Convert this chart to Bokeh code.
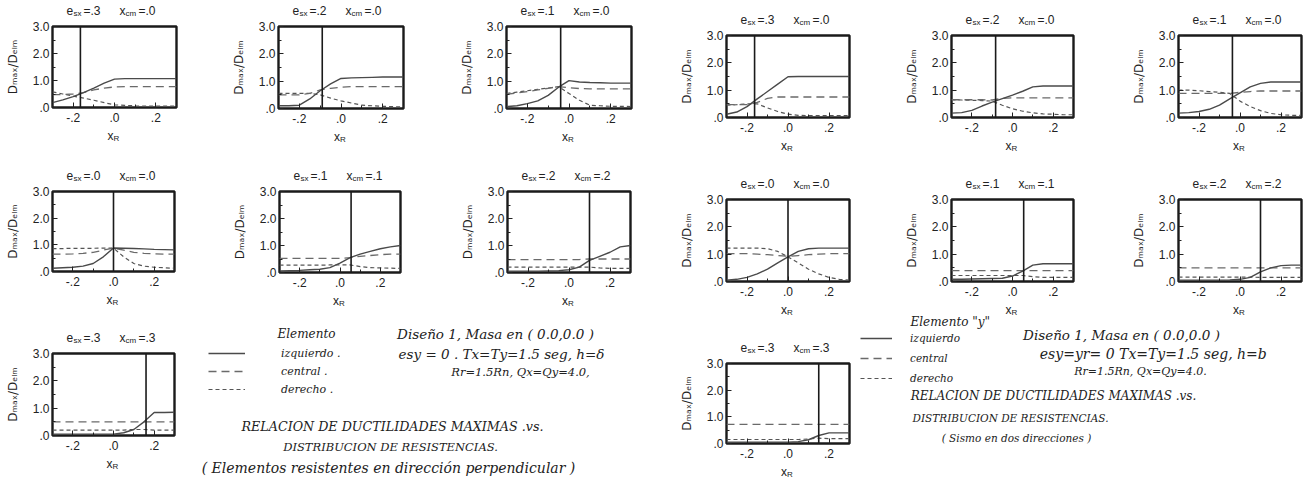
from bokeh.plotting import figure
from bokeh.models import Range1d, FixedTicker, Span, Label, Legend, LegendItem
from bokeh.layouts import row, column
from bokeh.embed import file_html
from bokeh.resources import INLINE

# Strength distribution x_R (abscissa of every panel)
XR = [-0.30, -0.25, -0.20, -0.15, -0.10, -0.05, 0.00, 0.05, 0.10, 0.15, 0.20, 0.25, 0.30]

# Eccentricity e_sx and mass centre x_cm of the seven cases
ESX = [0.3, 0.2, 0.1, 0.0, 0.1, 0.2, 0.3]
XCM = [0.0, 0.0, 0.0, 0.0, 0.1, 0.2, 0.3]

# Position of the vertical reference line in each panel
VLINE_A = [-0.165, -0.09, -0.04, 0.0, 0.055, 0.10, 0.16]
VLINE_B = [-0.163, -0.083, -0.037, 0.0, 0.055, 0.10, 0.15]

# --- Set A: elements resisting in the perpendicular direction -------------
a1_izq = [0.18, 0.28, 0.40, 0.55, 0.72, 0.90, 1.05, 1.07, 1.07, 1.07, 1.07, 1.07, 1.07]
a1_cen = [0.48, 0.48, 0.50, 0.55, 0.65, 0.72, 0.76, 0.77, 0.77, 0.77, 0.77, 0.77, 0.77]
a1_der = [0.58, 0.50, 0.42, 0.35, 0.27, 0.18, 0.10, 0.08, 0.06, 0.05, 0.05, 0.05, 0.05]

a2_izq = [0.10, 0.10, 0.12, 0.35, 0.65, 0.90, 1.10, 1.12, 1.13, 1.14, 1.15, 1.15, 1.15]
a2_cen = [0.50, 0.50, 0.50, 0.55, 0.68, 0.74, 0.78, 0.80, 0.80, 0.80, 0.80, 0.80, 0.80]
a2_der = [0.55, 0.55, 0.55, 0.55, 0.50, 0.38, 0.28, 0.20, 0.12, 0.10, 0.08, 0.07, 0.05]

a3_izq = [0.07, 0.10, 0.18, 0.28, 0.48, 0.78, 1.02, 0.97, 0.95, 0.94, 0.93, 0.93, 0.93]
a3_cen = [0.52, 0.57, 0.62, 0.68, 0.74, 0.80, 0.76, 0.73, 0.72, 0.72, 0.72, 0.72, 0.72]
a3_der = [0.55, 0.60, 0.65, 0.70, 0.75, 0.80, 0.55, 0.30, 0.12, 0.10, 0.08, 0.08, 0.07]

a4_izq = [0.12, 0.14, 0.16, 0.20, 0.30, 0.55, 0.88, 0.87, 0.86, 0.85, 0.83, 0.82, 0.81]
a4_cen = [0.65, 0.65, 0.66, 0.68, 0.72, 0.80, 0.88, 0.80, 0.72, 0.68, 0.66, 0.65, 0.65]
a4_der = [0.86, 0.86, 0.87, 0.87, 0.87, 0.88, 0.88, 0.55, 0.30, 0.20, 0.16, 0.14, 0.12]

a5_izq = [0.06, 0.07, 0.08, 0.10, 0.12, 0.18, 0.35, 0.55, 0.68, 0.78, 0.88, 0.95, 1.00]
a5_cen = [0.52, 0.52, 0.52, 0.52, 0.52, 0.52, 0.52, 0.55, 0.60, 0.63, 0.66, 0.68, 0.68]
a5_der = [0.27, 0.27, 0.27, 0.27, 0.27, 0.28, 0.28, 0.28, 0.22, 0.18, 0.17, 0.16, 0.15]

a6_izq = [0.05, 0.05, 0.05, 0.05, 0.06, 0.07, 0.10, 0.20, 0.45, 0.60, 0.75, 0.95, 1.00]
a6_cen = [0.48, 0.48, 0.48, 0.48, 0.48, 0.48, 0.48, 0.48, 0.50, 0.50, 0.50, 0.50, 0.50]
a6_der = [0.20, 0.20, 0.20, 0.20, 0.20, 0.20, 0.20, 0.20, 0.20, 0.17, 0.15, 0.15, 0.15]

a7_izq = [0.05, 0.05, 0.05, 0.05, 0.05, 0.05, 0.05, 0.10, 0.22, 0.50, 0.84, 0.84, 0.85]
a7_cen = [0.50, 0.50, 0.50, 0.50, 0.50, 0.50, 0.50, 0.50, 0.50, 0.50, 0.50, 0.50, 0.50]
a7_der = [0.20, 0.20, 0.20, 0.20, 0.20, 0.20, 0.20, 0.20, 0.22, 0.22, 0.20, 0.20, 0.20]

# --- Set B: earthquake in two directions -----------------------------------
b1_izq = [0.12, 0.20, 0.40, 0.68, 0.95, 1.22, 1.49, 1.50, 1.50, 1.50, 1.50, 1.50, 1.50]
b1_cen = [0.47, 0.47, 0.47, 0.55, 0.70, 0.75, 0.75, 0.75, 0.75, 0.75, 0.75, 0.75, 0.75]
b1_der = [0.45, 0.47, 0.50, 0.50, 0.35, 0.22, 0.12, 0.08, 0.07, 0.07, 0.07, 0.07, 0.07]

b2_izq = [0.16, 0.18, 0.26, 0.42, 0.56, 0.69, 0.82, 0.96, 1.12, 1.15, 1.15, 1.15, 1.15]
b2_cen = [0.65, 0.65, 0.65, 0.65, 0.64, 0.70, 0.72, 0.72, 0.72, 0.72, 0.72, 0.72, 0.72]
b2_der = [0.65, 0.64, 0.63, 0.62, 0.60, 0.45, 0.32, 0.23, 0.17, 0.13, 0.12, 0.10, 0.10]

b3_izq = [0.16, 0.18, 0.22, 0.30, 0.45, 0.68, 0.90, 1.12, 1.25, 1.30, 1.30, 1.30, 1.30]
b3_cen = [0.88, 0.88, 0.88, 0.88, 0.88, 0.88, 0.92, 0.95, 0.97, 0.97, 0.97, 0.97, 0.97]
b3_der = [1.00, 1.00, 0.98, 0.95, 0.92, 0.88, 0.60, 0.40, 0.25, 0.15, 0.10, 0.08, 0.08]

b4_izq = [0.05, 0.08, 0.15, 0.28, 0.45, 0.68, 0.90, 1.10, 1.20, 1.22, 1.22, 1.22, 1.22]
b4_cen = [1.02, 1.02, 1.02, 1.00, 0.98, 0.95, 0.92, 0.95, 0.98, 1.00, 1.02, 1.02, 1.02]
b4_der = [1.22, 1.22, 1.22, 1.22, 1.20, 1.10, 0.90, 0.68, 0.45, 0.28, 0.15, 0.08, 0.05]

b5_izq = [0.08, 0.08, 0.09, 0.10, 0.11, 0.12, 0.20, 0.38, 0.60, 0.65, 0.65, 0.65, 0.65]
b5_cen = [0.40, 0.40, 0.40, 0.40, 0.40, 0.40, 0.40, 0.40, 0.40, 0.40, 0.40, 0.40, 0.40]
b5_der = [0.22, 0.22, 0.22, 0.22, 0.22, 0.22, 0.22, 0.22, 0.18, 0.15, 0.15, 0.15, 0.15]

b6_izq = [0.05, 0.05, 0.05, 0.05, 0.05, 0.06, 0.08, 0.15, 0.35, 0.50, 0.58, 0.60, 0.60]
b6_cen = [0.50, 0.50, 0.50, 0.50, 0.50, 0.50, 0.50, 0.50, 0.50, 0.50, 0.50, 0.50, 0.50]
b6_der = [0.16, 0.16, 0.16, 0.16, 0.16, 0.16, 0.16, 0.16, 0.15, 0.15, 0.15, 0.15, 0.15]

b7_izq = [0.05, 0.05, 0.05, 0.05, 0.05, 0.05, 0.05, 0.07, 0.14, 0.30, 0.40, 0.40, 0.40]
b7_cen = [0.72, 0.72, 0.72, 0.72, 0.72, 0.72, 0.72, 0.72, 0.72, 0.72, 0.72, 0.72, 0.72]
b7_der = [0.15, 0.15, 0.15, 0.15, 0.15, 0.15, 0.15, 0.15, 0.17, 0.20, 0.18, 0.18, 0.18]

SET_A = [(a1_izq, a1_cen, a1_der), (a2_izq, a2_cen, a2_der), (a3_izq, a3_cen, a3_der),
         (a4_izq, a4_cen, a4_der), (a5_izq, a5_cen, a5_der), (a6_izq, a6_cen, a6_der),
         (a7_izq, a7_cen, a7_der)]
SET_B = [(b1_izq, b1_cen, b1_der), (b2_izq, b2_cen, b2_der), (b3_izq, b3_cen, b3_der),
         (b4_izq, b4_cen, b4_der), (b5_izq, b5_cen, b5_der), (b6_izq, b6_cen, b6_der),
         (b7_izq, b7_cen, b7_der)]

SANS = "Liberation Sans"
SERIF = "DejaVu Serif"
INK = "#222222"
FRAME = "#1a1a1a"
NAN = float("nan")

STYLE_IZQ = dict(line_color="#4a4a4a", line_width=1.4)
STYLE_CEN = dict(line_color="#6a6a6a", line_width=1.3, line_dash="8 5")
STYLE_DER = dict(line_color="#555555", line_width=1.2, line_dash="4 3")

# text strips: (left, top, width, height) in page pixels, each holds free text
STRIPS = []


def fmt(v):
    s = f"{v:.1f}"
    return s[1:] if s.startswith("0") else s


def strip(x0, y0, w, h):
    p = figure(width=w, height=h, x_range=Range1d(x0, x0 + w), y_range=Range1d(y0 + h, y0),
               output_backend="svg", toolbar_location=None, title=None,
               x_axis_location=None, y_axis_location=None, min_border=0, frame_align=False)
    p.xgrid.visible = False
    p.ygrid.visible = False
    p.outline_line_color = None
    p.background_fill_color = "white"
    p.border_fill_color = "white"
    STRIPS.append((x0, y0, w, h, p))
    return p


def note(x, y, text, size, font=SANS, align="left", style="normal"):
    for x0, y0, w, h, p in STRIPS:
        if x0 <= x < x0 + w and y0 <= y < y0 + h:
            p.add_layout(Label(x=x, y=y, text=text, text_font=font, text_font_size=size,
                               text_color=INK, text_align=align, text_baseline="middle",
                               text_font_style=style))
            return


def panel(cell, frame, vline, series):
    cx, cy, cw, ch = cell
    fl, ft, fw, fh = frame
    izq, cen, der = series
    p = figure(width=cw, height=ch, x_range=Range1d(-0.3, 0.3), y_range=Range1d(0, 3),
               output_backend="svg", toolbar_location=None, title=None, frame_align=False,
               min_border_left=fl - cx, min_border_top=ft - cy,
               min_border_right=cx + cw - fl - fw, min_border_bottom=cy + ch - ft - fh)
    p.xgrid.visible = False
    p.ygrid.visible = False
    p.outline_line_color = FRAME
    p.outline_line_width = 2.4
    p.background_fill_color = "white"
    p.border_fill_color = "white"

    p.line(XR, der, **STYLE_DER)
    p.line(XR, cen, **STYLE_CEN)
    p.line(XR, izq, **STYLE_IZQ)
    p.add_layout(Span(location=vline, dimension="height", line_color=FRAME, line_width=1.6))

    xa = p.xaxis[0]
    ya = p.yaxis[0]
    xa.ticker = FixedTicker(ticks=[-0.2, 0.0, 0.2], minor_ticks=[-0.3, -0.2, -0.1, 0.0, 0.1, 0.2, 0.3])
    xa.major_label_overrides = {-0.2: "-.2", 0: ".0", 0.2: ".2"}
    ya.ticker = FixedTicker(ticks=[0, 1, 2, 3], minor_ticks=[0.5, 1.5, 2.5])
    ya.major_label_overrides = {0: ".0", 1: "1.0", 2: "2.0", 3: "3.0"}
    for ax in (xa, ya):
        ax.axis_line_color = None
        ax.major_tick_in = 5
        ax.major_tick_out = 0
        ax.minor_tick_in = 3
        ax.minor_tick_out = 0
        ax.major_tick_line_color = INK
        ax.minor_tick_line_color = INK
        ax.major_label_text_font = SANS
        ax.major_label_text_font_size = "12px"
        ax.major_label_text_color = INK
    xa.major_label_standoff = 5
    ya.major_label_standoff = 3
    ya.axis_label = "Dₘₐₓ/Dₑₗₘ"
    ya.axis_label_text_font = "DejaVu Sans"
    ya.axis_label_text_font_size = "12px"
    ya.axis_label_text_font_style = "normal"
    ya.axis_label_text_color = INK
    ya.axis_label_standoff = 10
    return p


def captions(frame, esx, xcm):
    fl, ft, fw, fh = frame
    # heading e_sx = ..   x_cm = ..
    note(fl + 14, ft - 16, "e", "12px")
    note(fl + 21, ft - 13, "sx", "8px")
    note(fl + 31, ft - 16, "=" + fmt(esx), "12px")
    note(fl + 67, ft - 16, "x", "12px")
    note(fl + 73, ft - 13, "cm", "8px")
    note(fl + 86, ft - 16, "=" + fmt(xcm), "12px")
    # abscissa label x_R
    xc = fl + fw / 2
    note(xc - 7, ft + fh + 28, "x", "12px")
    note(xc - 1, ft + fh + 31, "R", "8px")


def legend_block(p, labels, loc, gw, standoff, spacing, size):
    r1 = p.line([NAN], [NAN], **STYLE_IZQ)
    r2 = p.line([NAN], [NAN], **STYLE_CEN)
    r3 = p.line([NAN], [NAN], **STYLE_DER)
    leg = Legend(items=[LegendItem(label=labels[0], renderers=[r1]),
                        LegendItem(label=labels[1], renderers=[r2]),
                        LegendItem(label=labels[2], renderers=[r3])],
                 location=loc, orientation="vertical", glyph_width=gw, glyph_height=14,
                 label_height=14, label_standoff=standoff, spacing=spacing, padding=0, margin=0,
                 border_line_color=None, background_fill_alpha=0,
                 label_text_font=SERIF, label_text_font_style="italic",
                 label_text_font_size=size, label_text_color=INK)
    p.add_layout(leg)


# ---------------- left block: perpendicular elements ----------------
CELL_A = [(0, 18, 215, 109), (215, 18, 225, 109), (440, 18, 210, 109),
          (0, 183, 215, 108), (215, 183, 225, 108), (440, 183, 210, 108),
          (0, 345, 200, 109)]
FRAME_A = [(52, 26, 124, 81), (278, 26, 125, 82), (506, 26, 125, 82),
           (52, 191, 122, 80), (279, 191, 121, 81), (507, 191, 123, 81),
           (52, 353, 122, 82)]

s0 = strip(0, 0, 650, 18)
s1 = strip(0, 127, 650, 56)
s2a = strip(0, 291, 200, 54)
s2b = strip(0, 454, 200, 28)
txa = strip(200, 291, 450, 191)

pa = [panel(CELL_A[i], FRAME_A[i], VLINE_A[i], SET_A[i]) for i in range(7)]
for i in range(7):
    captions(FRAME_A[i], ESX[i], XCM[i])

note(277, 333, "Elemento", "12px", SERIF, "left", "italic")
note(495, 333, "Diseño 1, Masa en ( 0.0,0.0 )", "13.5px", SERIF, "center", "italic")
note(501, 353, "esy = 0 . Tx=Ty=1.5 seg, h=δ", "13.5px", SERIF, "center", "italic")
note(520, 371, "Rr=1.5Rn, Qx=Qy=4.0,", "11.5px", SERIF, "center", "italic")
note(392, 426, "RELACION DE DUCTILIDADES MAXIMAS .vs.", "12.7px", SERIF, "center", "italic")
note(390, 446, "DISTRIBUCION DE RESISTENCIAS.", "11.5px", SERIF, "center", "italic")
note(388, 467, "( Elementos resistentes en dirección perpendicular )", "14px", SERIF, "center", "italic")
legend_block(txa, ["izquierdo .", "central .", "derecho ."], (8, 86), 37, 36, 4, "11px")

left = column(s0, row(pa[0], pa[1], pa[2]), s1, row(pa[3], pa[4], pa[5]),
              row(column(s2a, pa[6], s2b), txa))

# ---------------- right block: earthquake in two directions ----------------
CELL_B = [(650, 27, 230, 109), (880, 27, 220, 109), (1100, 27, 210, 109),
          (650, 191, 230, 109), (880, 191, 220, 109), (1100, 191, 210, 109),
          (650, 355, 210, 107)]
FRAME_B = [(726, 35, 123, 82), (951, 35, 122, 82), (1178, 35, 123, 82),
           (726, 199, 123, 82), (951, 199, 122, 82), (1178, 199, 123, 82),
           (726, 363, 123, 80)]

t0 = strip(650, 0, 660, 27)
t1 = strip(650, 136, 660, 55)
t2a = strip(650, 300, 210, 55)
t2b = strip(650, 462, 210, 20)
txb = strip(860, 300, 450, 182)

pb = [panel(CELL_B[i], FRAME_B[i], VLINE_B[i], SET_B[i]) for i in range(7)]
for i in range(7):
    captions(FRAME_B[i], ESX[i], XCM[i])

note(910, 321, "Elemento \"y\"", "12px", SERIF, "left", "italic")
note(1121, 334, "Diseño 1, Masa en ( 0.0,0.0 )", "13.5px", SERIF, "center", "italic")
note(1155, 353, "esy=yr= 0  Tx=Ty=1.5 seg, h=b", "14px", SERIF, "center", "italic")
note(1140, 371, "Rr=1.5Rn, Qx=Qy=4.0.", "11px", SERIF, "center", "italic")
note(1053, 395, "RELACION DE DUCTILIDADES MAXIMAS .vs.", "12px", SERIF, "center", "italic")
note(1010, 417, "DISTRIBUCION DE RESISTENCIAS.", "10.5px", SERIF, "center", "italic")
note(1016, 437, "( Sismo en dos direcciones )", "10.5px", SERIF, "center", "italic")
legend_block(txb, ["izquierdo", "central", "derecho"], (0, 97), 32, 18, 6, "10.5px")

right = column(t0, row(pb[0], pb[1], pb[2]), t1, row(pb[3], pb[4], pb[5]),
               row(column(t2a, pb[6], t2b), txb))

layout = row(left, right)
open("out.html", "w").write(file_html(layout, INLINE))
